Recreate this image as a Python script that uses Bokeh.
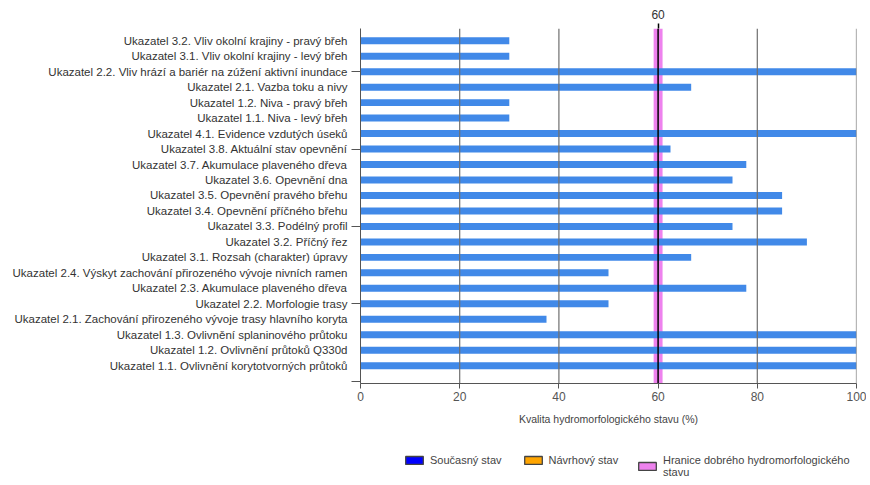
from bokeh.plotting import figure
from bokeh.layouts import column
from bokeh.models import FixedTicker, Range1d, Legend, LegendItem, LinearAxis
from bokeh.embed import file_html
from bokeh.resources import INLINE

# ---- data (top to bottom as in the chart) ----
indicators = [
    "Ukazatel 3.2. Vliv okolní krajiny - pravý břeh",
    "Ukazatel 3.1. Vliv okolní krajiny - levý břeh",
    "Ukazatel 2.2. Vliv hrází a bariér na zúžení aktivní inundace",
    "Ukazatel 2.1. Vazba toku a nivy",
    "Ukazatel 1.2. Niva - pravý břeh",
    "Ukazatel 1.1. Niva - levý břeh",
    "Ukazatel 4.1. Evidence vzdutých úseků",
    "Ukazatel 3.8. Aktuální stav opevnění",
    "Ukazatel 3.7. Akumulace plaveného dřeva",
    "Ukazatel 3.6. Opevnění dna",
    "Ukazatel 3.5. Opevnění pravého břehu",
    "Ukazatel 3.4. Opevnění příčného břehu",
    "Ukazatel 3.3. Podélný profil",
    "Ukazatel 3.2. Příčný řez",
    "Ukazatel 3.1. Rozsah (charakter) úpravy",
    "Ukazatel 2.4. Výskyt zachování přirozeného vývoje nivních ramen",
    "Ukazatel 2.3. Akumulace plaveného dřeva",
    "Ukazatel 2.2. Morfologie trasy",
    "Ukazatel 2.1. Zachování přirozeného vývoje trasy hlavního koryta",
    "Ukazatel 1.3. Ovlivnění splaninového průtoku",
    "Ukazatel 1.2. Ovlivnění průtoků Q330d",
    "Ukazatel 1.1. Ovlivnění korytotvorných průtoků",
]
current_state = [30, 30, 100, 66.67, 30, 30, 100, 62.5, 77.78, 75, 85, 85, 75, 90,
                 66.67, 50, 77.78, 50, 37.5, 100, 100, 100]
threshold = 60
x_ticks = [0, 20, 40, 60, 80, 100]
grid_x = [20, 40, 80, 100]
y_minor = [0, 5, 10, 15, 20]
x_title = "Kvalita hydromorfologického stavu (%)"
legend_labels = ["Současný stav", "Návrhový stav",
                 "Hranice dobrého hydromorfologického\nstavu"]
legend_fill = ["#0000ff", "#ffa500", "#ee82ee"]

n = len(indicators)
pos = list(range(n, 0, -1))
Y_START, Y_TOP = -0.15, 22.79
FONT = "Liberation Sans"
W = 866

p = figure(width=W, height=440, output_backend="svg", toolbar_location=None,
           x_range=Range1d(0, 100), y_range=Range1d(Y_START, Y_TOP),
           min_border_left=360, min_border_right=10, min_border_top=28,
           min_border_bottom=57)
p.outline_line_color = None
p.xgrid.visible = False
p.ygrid.visible = False

# threshold band
p.quad(left=[threshold - 0.9], right=[threshold + 0.9], bottom=[Y_START], top=[Y_TOP],
       fill_color="#ee82ee", line_color=None)

# bars
p.hbar(y=pos, right=current_state, left=0, height=0.45,
       fill_color="#4189e8", line_color=None)

# grid lines over bars
p.segment(x0=grid_x, x1=grid_x, y0=[Y_START] * len(grid_x), y1=[Y_TOP] * len(grid_x),
          line_color="#6f6f6f", line_width=1.2)

# threshold line
p.segment(x0=[threshold], x1=[threshold], y0=[Y_START], y1=[Y_TOP],
          line_color="black", line_width=1.5)

# bottom axis
xa = p.below[0]
xa.ticker = FixedTicker(ticks=x_ticks)
xa.minor_tick_line_color = None
xa.major_tick_in = 0
xa.major_tick_out = 5
xa.axis_line_color = "#555555"
xa.major_tick_line_color = "#555555"
xa.major_label_text_font = FONT
xa.major_label_text_font_size = "12px"
xa.major_label_text_color = "#555555"
xa.major_label_standoff = 3
xa.axis_label = x_title
xa.axis_label_text_font = FONT
xa.axis_label_text_font_size = "10.5px"
xa.axis_label_text_font_style = "normal"
xa.axis_label_text_color = "#444444"
xa.axis_label_standoff = 9

# top axis carrying the threshold value
top_ax = LinearAxis(ticker=FixedTicker(ticks=[threshold]))
top_ax.axis_line_color = None
top_ax.minor_tick_line_color = None
top_ax.major_tick_in = 0
top_ax.major_tick_out = 5
top_ax.major_tick_line_color = "black"
top_ax.major_tick_line_width = 1.5
top_ax.major_label_standoff = 5
top_ax.major_label_text_font = FONT
top_ax.major_label_text_font_size = "12px"
top_ax.major_label_text_color = "#333333"
p.add_layout(top_ax, "above")

ya = p.left[0]
ya.ticker = FixedTicker(ticks=pos, minor_ticks=y_minor)
ya.major_label_overrides = {pp: lab for pp, lab in zip(pos, indicators)}
ya.major_tick_in = 0
ya.major_tick_out = 0
ya.minor_tick_in = 0
ya.minor_tick_out = 9
ya.minor_tick_line_color = "#555555"
ya.axis_line_color = "#555555"
ya.major_label_text_font = FONT
ya.major_label_text_font_size = "11.5px"
ya.major_label_text_color = "#333333"
ya.major_label_standoff = 4

# legend in its own strip below the chart (frames are aligned in the column)
lg = figure(width=W, height=45, output_backend="svg", toolbar_location=None,
            x_range=Range1d(0, 1), y_range=Range1d(0, 1),
            x_axis_location=None, y_axis_location=None,
            min_border=0)
lg.outline_line_color = None
lg.xgrid.visible = False
lg.ygrid.visible = False
items = []
for lab, col in zip(legend_labels, legend_fill):
    # zero-size swatch outside the visible range: only its legend entry shows
    r = lg.quad(left=[2], right=[2], top=[2], bottom=[2], fill_color=col,
                line_color="#444444", line_width=1.3)
    items.append(LegendItem(label=lab, renderers=[r]))

common = dict(orientation="horizontal", glyph_width=22, glyph_height=10,
              label_standoff=5, spacing=20, padding=0, margin=0,
              border_line_color=None, background_fill_alpha=0,
              label_text_font=FONT, label_text_font_size="11px",
              label_text_color="#444444", label_height=10)
lg.add_layout(Legend(items=items[:2], location=(43, 19), **common))
lg.add_layout(Legend(items=items[2:], location=(276, 7), **common))

open("out.html", "w").write(file_html(column(p, lg, spacing=0), INLINE))
